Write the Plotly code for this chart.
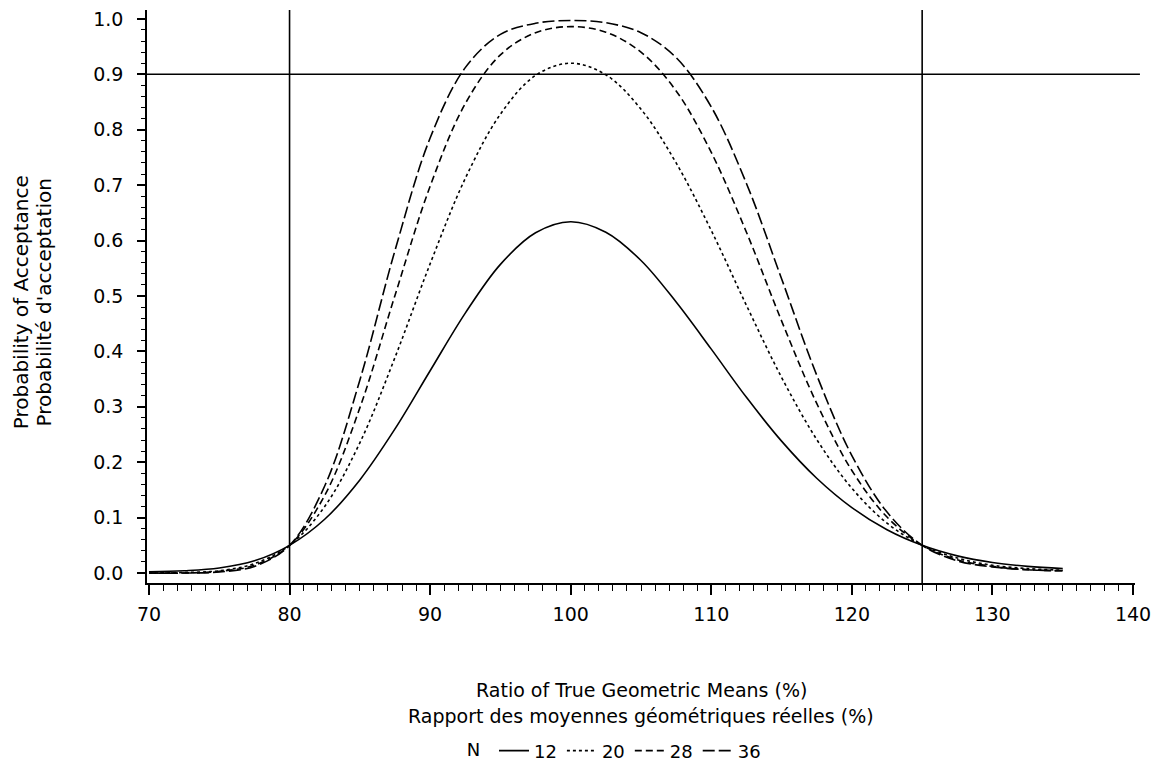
import plotly.graph_objects as go

# Ratio of true geometric means (%)
ratio = [70, 72.5, 75, 77.5, 80, 82.5, 85, 87.5, 90, 92.5, 95, 97.5, 100,
         102.5, 105, 107.5, 110, 112.5, 115, 117.5, 120, 122.5, 125, 127.5,
         130, 132.5, 135]

# Probability of acceptance
p_n12 = [0.002, 0.004, 0.009, 0.022, 0.050, 0.097, 0.168, 0.260, 0.365, 0.469,
         0.557, 0.614, 0.634, 0.615, 0.564, 0.489, 0.404, 0.317, 0.238, 0.171,
         0.118, 0.078, 0.050, 0.031, 0.019, 0.012, 0.008]
p_n20 = [0.000, 0.001, 0.004, 0.017, 0.050, 0.120, 0.235, 0.389, 0.558, 0.712,
         0.828, 0.898, 0.920, 0.899, 0.837, 0.740, 0.618, 0.483, 0.353, 0.241,
         0.153, 0.090, 0.050, 0.027, 0.014, 0.008, 0.005]
p_n28 = [0.000, 0.000, 0.003, 0.014, 0.050, 0.140, 0.298, 0.501, 0.698, 0.847,
         0.935, 0.975, 0.986, 0.976, 0.940, 0.870, 0.759, 0.615, 0.455, 0.306,
         0.185, 0.101, 0.050, 0.024, 0.012, 0.006, 0.004]
p_n36 = [0.000, 0.000, 0.002, 0.012, 0.050, 0.157, 0.348, 0.582, 0.785, 0.912,
         0.972, 0.992, 0.997, 0.993, 0.975, 0.930, 0.841, 0.703, 0.531, 0.357,
         0.212, 0.110, 0.050, 0.022, 0.011, 0.006, 0.004]

series_names = ["12", "20", "28", "36"]
series_vals = [p_n12, p_n20, p_n28, p_n36]
series_dash = ["solid", "3px,3px", "7px,4px", "12px,4px"]

x_ticks = [70, 80, 90, 100, 110, 120, 130, 140]
ref_x = [80, 125]
ref_y = 0.9

FONT = "DejaVu Sans"

fig = go.Figure()
for name, vals, dash in zip(series_names, series_vals, series_dash):
    fig.add_trace(go.Scatter(
        x=ratio, y=vals, mode="lines", name=name,
        line=dict(color="black", width=1.6, dash=dash, shape="spline", smoothing=1.0),
    ))

for rx in ref_x:
    fig.add_shape(type="line", xref="x", yref="paper", x0=rx, x1=rx, y0=0, y1=1.0,
                  line=dict(color="black", width=1.6))
fig.add_shape(type="line", xref="paper", yref="y", x0=0, x1=1.005, y0=ref_y, y1=ref_y,
              line=dict(color="black", width=1.6))

fig.update_layout(
    width=1159, height=763,
    margin=dict(l=147, r=24, t=10, b=180, autoexpand=False),
    paper_bgcolor="white", plot_bgcolor="white",
    font=dict(family=FONT, size=18, color="black"),
    showlegend=True,
    legend=dict(orientation="h", x=0.474, xanchor="center", y=-0.293, yanchor="middle",
                title=dict(text="N ", font=dict(size=18)), font=dict(size=18),
                itemwidth=30, tracegroupgap=0, bgcolor="rgba(0,0,0,0)"),
    xaxis=dict(range=[69.86, 140.14], tickmode="array", tickvals=x_ticks,
               ticks="outside", ticklen=10, tickwidth=1.5, tickcolor="black",
               showline=True, linecolor="black", linewidth=1.6, automargin=False,
               showgrid=False, zeroline=False, ticklabelstandoff=3,
               tickfont=dict(family=FONT, size=19),
               minor=dict(dtick=1, tick0=70, ticks="outside", ticklen=6, tickwidth=1.2,
                          tickcolor="black", showgrid=False)),
    yaxis=dict(range=[-0.018, 1.016], tick0=0, dtick=0.1, tickformat=".1f",
               ticks="outside", ticklen=8, tickwidth=1.5, tickcolor="black",
               showline=True, linecolor="black", linewidth=1.6, automargin=False,
               showgrid=False, zeroline=False, ticklabelstandoff=10,
               tickfont=dict(family=FONT, size=19),
               minor=dict(dtick=0.02, tick0=0, ticks="outside", ticklen=4, tickwidth=1.2,
                          tickcolor="black", showgrid=False)),
)

annotations = [
    dict(text="Ratio of True Geometric Means (%)", x=0.5, y=-0.1867, xref="paper", yref="paper",
         xanchor="center", yanchor="middle", showarrow=False, font=dict(family=FONT, size=19)),
    dict(text="Rapport des moyennes géométriques réelles (%)", x=0.5, y=-0.2321, xref="paper",
         yref="paper", xanchor="center", yanchor="middle", showarrow=False,
         font=dict(family=FONT, size=19)),
    dict(text="Probability of Acceptance", x=-0.1275, y=0.49, xref="paper", yref="paper",
         xanchor="center", yanchor="middle", textangle=-90, showarrow=False,
         font=dict(family=FONT, size=20)),
    dict(text="Probabilité d'acceptation", x=-0.104, y=0.49, xref="paper", yref="paper",
         xanchor="center", yanchor="middle", textangle=-90, showarrow=False,
         font=dict(family=FONT, size=20)),
]
fig.update_layout(annotations=annotations)

fig.write_html("out.html")
